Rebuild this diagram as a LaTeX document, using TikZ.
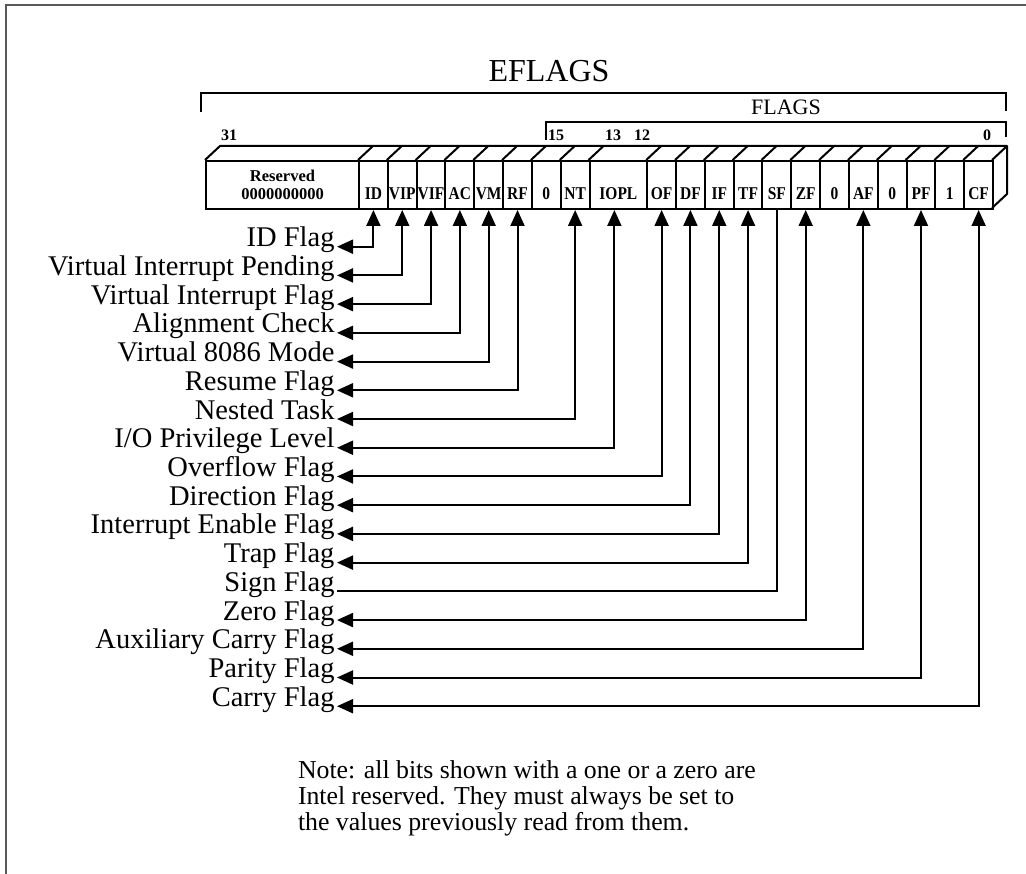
\documentclass[tikz,border=0pt]{standalone}
\usepackage{fontspec}
\setmainfont{Liberation Serif}
\newfontfamily\cellfont[FakeStretch=0.86]{Liberation Serif}
\usetikzlibrary{arrows.meta}
\begin{document}
\begin{tikzpicture}[x=1pt,y=-1pt,line width=2pt,
  cellbox/.style={draw, inner sep=0pt, anchor=north west, minimum width=28.82pt,
    text height=39pt, text depth=9pt, font=\cellfont\fontsize{18}{18}\selectfont\bfseries},
  bitnum/.style={inner sep=0pt, anchor=base, font=\fontsize{16}{16}\selectfont\bfseries},
  lab/.style={inner sep=0pt, inner xsep=1.5pt, anchor=base east, font=\fontsize{28.5}{28.5}\selectfont},
  notetext/.style={inner sep=0pt, anchor=base west, font=\fontsize{25.8}{25.8}\selectfont},
  conn/.style={{Triangle[length=16pt,width=14pt]}-{Triangle[length=16pt,width=14pt]}},
  plainconn/.style={-},
  frame/.style={draw=black!65, line width=2pt}
]
\useasboundingbox (0,0) rectangle (1026,874);
% outer frame (top and left only)
\draw[frame] (1026,5) -- (6,5) -- (6,874);

% title and brackets
\node[inner sep=0pt, anchor=base, font=\fontsize{32}{32}\selectfont] (title) at (549,82) {EFLAGS};
\draw (201,112) -- (201,93) -- (1006,93) -- (1006,111);
\node[inner sep=0pt, anchor=base, font=\fontsize{22}{22}\selectfont] (flags) at (786,115) {FLAGS};
\draw (546,140) -- (546,122) -- (1006,122) -- (1006,137);

% bit numbers
\node[bitnum] (b31) at (229,141) {31};
\node[bitnum] (b15) at (556,141) {15};
\node[bitnum] (b13) at (613,141) {13};
\node[bitnum] (b12) at (642,141) {12};
\node[bitnum] (b0)  at (987,141) {0};

% register cells
\node[draw, inner sep=0pt, anchor=north west, minimum width=153pt, minimum height=48pt,
  align=center, font=\fontsize{16.5}{18.5}\selectfont\bfseries] (cRes) at (205,160) {Reserved\\0000000000};
\foreach \k/\n/\t in {0/ID/ID,1/VIP/VIP,2/VIF/VIF,3/AC/AC,4/VM/VM,5/RF/RF,6/Zf/0,7/NT/NT,
  10/OF/OF,11/DF/DF,12/IF/IF,13/TF/TF,14/SF/SF,15/ZF/ZF,16/Zv/0,17/AF/AF,18/Zt/0,19/PF/PF,20/One/1,21/CF/CF}
  \node[cellbox] (c\n) at ({358+28.82*\k},160) {\t};
\node[cellbox, minimum width=57.64pt] (cIOPL) at ({358+28.82*8},160) {IOPL};

% top and side faces
\draw[line join=round] (205,160) -- (220,146) -- (1007,146) -- (1007,194) -- (992,208);
\foreach \k in {0,1,2,3,4,5,6,7,8,10,11,12,13,14,15,16,17,18,19,20,21,22}
  \draw ({358+28.82*\k},160) -- ++(15,-14);

% labels
\foreach \i/\n/\t in {0/ID/{ID Flag},1/VIP/{Virtual Interrupt Pending},2/VIF/{Virtual Interrupt Flag},
  3/AC/{Alignment Check},4/VM/{Virtual 8086 Mode},5/RF/{Resume Flag},6/NT/{Nested Task},
  7/IOPL/{I/O Privilege Level},8/OF/{Overflow Flag},9/DF/{Direction Flag},
  10/IF/{Interrupt Enable Flag},11/TF/{Trap Flag},12/SF/{Sign Flag},13/ZF/{Zero Flag},
  14/AF/{Auxiliary Carry Flag},15/PF/{Parity Flag},16/CF/{Carry Flag}}
  \node[lab] (l\n) at (337,{246.7+28.72*\i}) {\t};

% connectors
\foreach \n in {ID,VIP,VIF,AC,VM,RF,NT,OF,DF,IF,TF,ZF,AF,PF,CF}
  \draw[conn] (c\n.south) |- (l\n.base east);
\draw[conn] ([xshift=-4pt]cIOPL.south) |- (lIOPL.base east);
\draw[plainconn] (cSF.south) |- (lSF.base east);

% note
\node[notetext] (n1) at (297,778) {Note: all bits shown with a one or a zero are};
\node[notetext] (n2) at (297,804) {Intel reserved. They must always be set to};
\node[notetext] (n3) at (297,830) {the values previously read from them.};
\end{tikzpicture}
\end{document}
